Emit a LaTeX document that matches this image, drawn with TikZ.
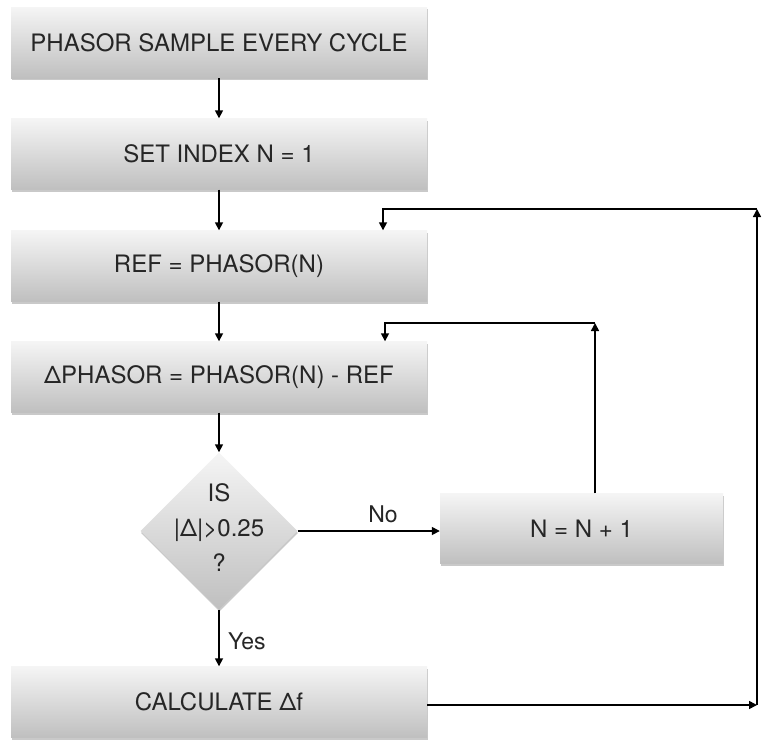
\documentclass[tikz,border=0pt]{standalone}
\usepackage{fontspec}
\setmainfont{TeX Gyre Heros}
\usetikzlibrary{arrows.meta,shapes.geometric,shadows}
\begin{document}
\begin{tikzpicture}[x=1pt,y=-1pt,
  every node/.style={font=\fontsize{24}{35}\selectfont, text=black!85},
  boxstyle/.style={rectangle, minimum width=416pt, minimum height=71pt, inner sep=0pt,
    top color=black!4, bottom color=black!25,
    drop shadow={shadow xshift=0.5pt, shadow yshift=-2pt, opacity=0.35, fill=black!60}},
  decstyle/.style={diamond, minimum width=157pt, minimum height=157pt, inner sep=0pt,
    top color=black!4, bottom color=black!25,
    drop shadow={shadow xshift=0.5pt, shadow yshift=-2pt, opacity=0.35, fill=black!60}},
  conn/.style={line width=1.6pt, draw=black, -{Triangle[length=8pt,width=8pt]}},
  lbl/.style={font=\fontsize{23}{26}\selectfont}]
\useasboundingbox (0,0) rectangle (770,747);
\fill[white] (0,0) rectangle (770,747);
\node[boxstyle] (b1) at (219,42.5) {PHASOR SAMPLE EVERY CYCLE};
\node[boxstyle] (b2) at (219,154) {SET INDEX N = 1};
\node[boxstyle] (b3) at (219,266) {REF = PHASOR(N)};
\node[boxstyle] (b4) at (219,377) {ΔPHASOR = PHASOR(N) - REF};
\node[decstyle] (d) at (219,531) {};
\node[align=center, inner sep=0pt] (dt) at (219,528) {IS\\|Δ|>0.25\\?};
\node[boxstyle, minimum width=283pt, minimum height=70pt] (n1) at (581.5,528.5) {N = N + 1};
\node[boxstyle] (b6) at (219,702) {CALCULATE Δf};
\coordinate (c1) at (595,323);
\coordinate (c2) at (385,323);
\coordinate (o1) at (757,705);
\coordinate (o2) at (757,209);
\coordinate (o3) at (383,209);
\draw[conn] (b1) -- (b2);
\draw[conn] (b2) -- (b3);
\draw[conn] (b3) -- (b4);
\draw[conn] (b4) -- (d);
\draw[conn] (d) -- node[lbl, right, xshift=5pt, yshift=-3pt] {Yes} (b6);
\draw[conn] (d.east) -- node[lbl, above, pos=0.6, yshift=4pt] {No} (d.east -| n1.west);
\draw[conn] (n1.north -| c1) -- (c1);
\draw[conn] (c1) -- (c2) -- (c2 |- b4.north);
\draw[conn] (b6.east |- o1) -- (o1);
\draw[conn] (o1) -- (o2);
\draw[conn] (o2) -- (o3) -- (o3 |- b3.north);
\end{tikzpicture}
\end{document}
